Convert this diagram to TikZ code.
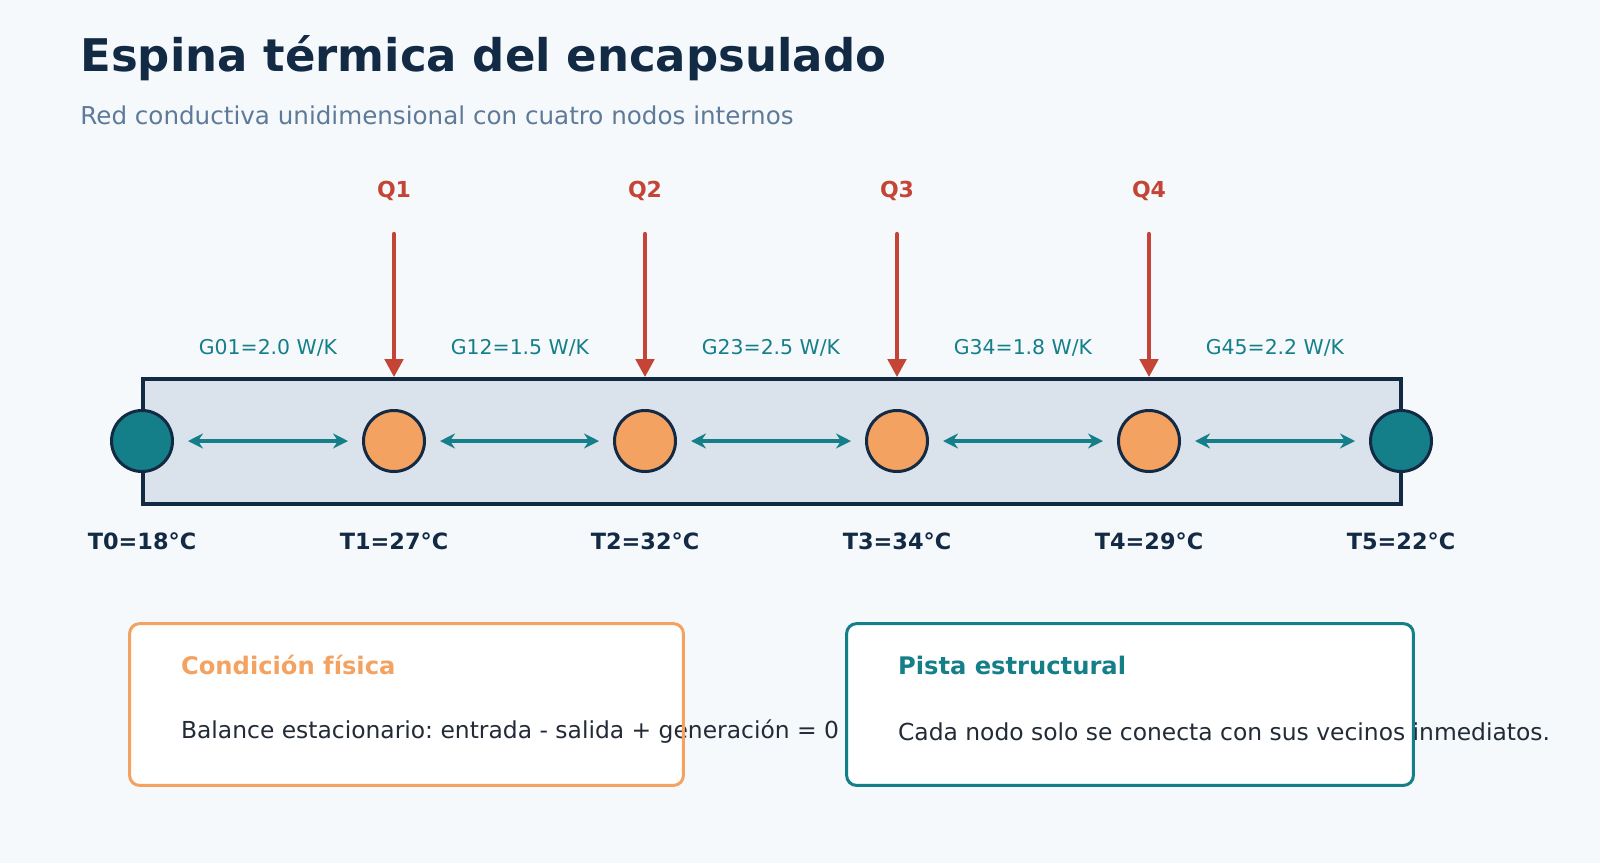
\documentclass[tikz,border=0pt]{standalone}
\usepackage{fontspec}
\setmainfont{DejaVu Sans}
\usetikzlibrary{positioning}
\usetikzlibrary{arrows.meta}
\frenchspacing

\definecolor{pagebg}{HTML}{F5F9FC}
\definecolor{spinenavy}{HTML}{132A44}
\definecolor{spinegrey}{HTML}{5F7A99}
\definecolor{spineteal}{HTML}{157F89}
\definecolor{spineorange}{HTML}{F4A261}
\definecolor{spinered}{HTML}{C44536}
\definecolor{barfill}{HTML}{DAE2EC}
\definecolor{bodytext}{HTML}{222B36}

\tikzset{
  endnode/.style={circle, draw=spinenavy, line width=1.5pt, fill=spineteal, minimum size=30.5pt, inner sep=0pt},
  midnode/.style={circle, draw=spinenavy, line width=1.5pt, fill=spineorange, minimum size=30.5pt, inner sep=0pt},
  link/.style={draw=spineteal, line width=2.3pt, {Stealth[length=7.5pt, width=7.5pt, inset=2.5pt]}-{Stealth[length=7.5pt, width=7.5pt, inset=2.5pt]}, shorten <=7pt, shorten >=7pt},
  heat/.style={draw=spinered, line width=2.2pt, line cap=round, -{Triangle[length=9pt, width=9pt]}},
  qlabel/.style={text=spinered, font=\fontsize{11}{13}\selectfont\bfseries},
  glabel/.style={text=spineteal, font=\fontsize{10.2}{12}\selectfont},
  tlabel/.style={text=spinenavy, font=\fontsize{11.2}{13}\selectfont\bfseries},
  boxhead/.style={anchor=west, font=\fontsize{12.1}{14}\selectfont\bfseries},
  boxbody/.style={anchor=west, text=bodytext, font=\fontsize{11.7}{14}\selectfont},
}

\begin{document}
\begin{tikzpicture}[x=0.5pt, y=-0.5pt]
  \useasboundingbox (0,0) rectangle (1600,863);
  \fill[pagebg] (0,0) rectangle (1600,863);

  % title
  \node[anchor=west, text=spinenavy, font=\fontsize{22.5}{27}\selectfont\bfseries, inner sep=0pt] (title) at (80,58) {Espina térmica del encapsulado};
  \node[anchor=west, text=spinegrey, font=\fontsize{12.3}{15}\selectfont, inner sep=0pt] (subtitle) at (80,115) {Red conductiva unidimensional con cuatro nodos internos};

  % the spine
  \node[draw=spinenavy, fill=barfill, line width=1.8pt, minimum width=629pt, minimum height=62.5pt, inner sep=0pt] (bar) at (772,441.5) {};

  \node[endnode] (n0) at (142,441) {};
  \node[midnode] (n1) at (394,441) {};
  \node[midnode] (n2) at (645,441) {};
  \node[midnode] (n3) at (897,441) {};
  \node[midnode] (n4) at (1149,441) {};
  \node[endnode] (n5) at (1401,441) {};

  \draw[link] (n0) -- (n1);
  \draw[link] (n1) -- (n2);
  \draw[link] (n2) -- (n3);
  \draw[link] (n3) -- (n4);
  \draw[link] (n4) -- (n5);

  \node[glabel] (g01) at (268,348) {G01=2.0 W/K};
  \node[glabel] (g12) at (520,348) {G12=1.5 W/K};
  \node[glabel] (g23) at (771,348) {G23=2.5 W/K};
  \node[glabel] (g34) at (1023,348) {G34=1.8 W/K};
  \node[glabel] (g45) at (1275,348) {G45=2.2 W/K};

  % heat inputs
  \node[qlabel] (q1) at (394,191) {Q1};
  \node[qlabel] (q2) at (645,191) {Q2};
  \node[qlabel] (q3) at (897,191) {Q3};
  \node[qlabel] (q4) at (1149,191) {Q4};
  \coordinate (s1) at (394,234);
  \coordinate (s2) at (645,234);
  \coordinate (s3) at (897,234);
  \coordinate (s4) at (1149,234);
  \draw[heat] (s1) -- (s1 |- bar.north);
  \draw[heat] (s2) -- (s2 |- bar.north);
  \draw[heat] (s3) -- (s3 |- bar.north);
  \draw[heat] (s4) -- (s4 |- bar.north);

  \node[tlabel] (t0) at (142,541) {T0=18°C};
  \node[tlabel] (t1) at (394,541) {T1=27°C};
  \node[tlabel] (t2) at (645,541) {T2=32°C};
  \node[tlabel] (t3) at (897,541) {T3=34°C};
  \node[tlabel] (t4) at (1149,541) {T4=29°C};
  \node[tlabel] (t5) at (1401,541) {T5=22°C};

  % notes
  \node[fill=white, rounded corners=5pt, minimum width=276.5pt, minimum height=80.5pt, inner sep=0pt] (note1) at (406.5,704.5) {};
  \node[boxhead, text=spineorange] (head1) at (174,665) {Condición física};
  \node[boxbody] (body1) at (174,732) {Balance estacionario: entrada - salida + generación = 0};
  \draw[spineorange, line width=1.5pt, rounded corners=5pt] (note1.south west) rectangle (note1.north east);

  \node[fill=white, rounded corners=5pt, minimum width=283pt, minimum height=80.5pt, inner sep=0pt] (note2) at (1130,704.5) {};
  \node[boxhead, text=spineteal] (head2) at (891,665) {Pista estructural};
  \node[boxbody] (body2) at (891,732) {Cada nodo solo se conecta con sus vecinos inmediatos.};
  \draw[spineteal, line width=1.5pt, rounded corners=5pt] (note2.south west) rectangle (note2.north east);
\end{tikzpicture}
\end{document}
